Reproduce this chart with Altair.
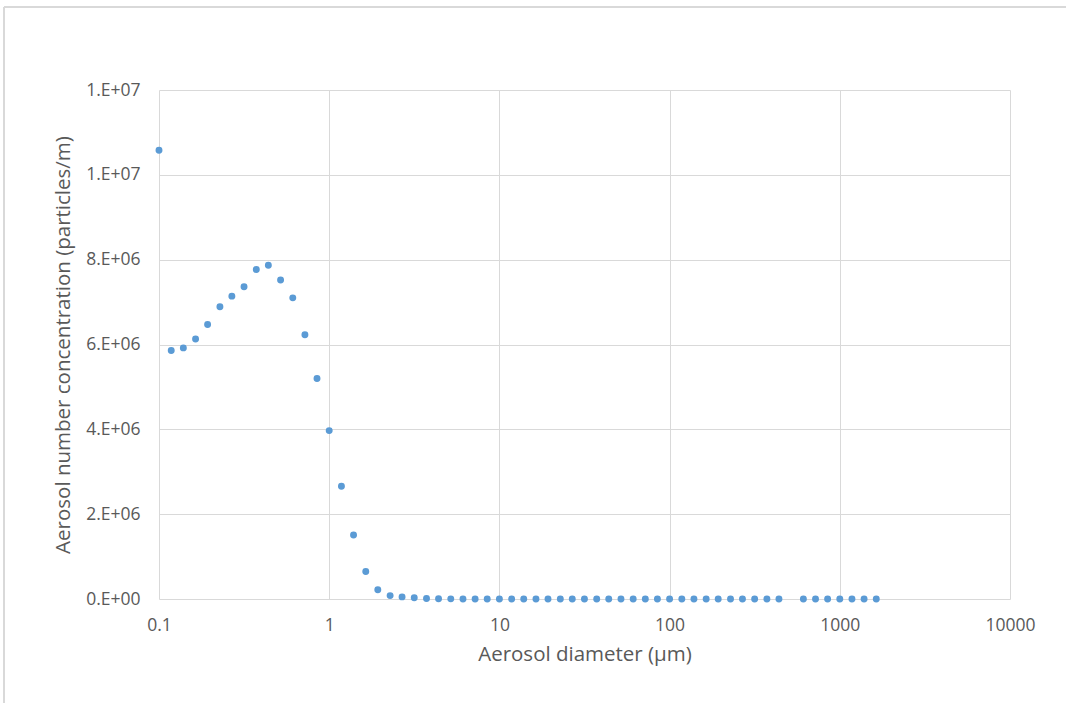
import altair as alt
import pandas as pd

# Aerosol diameter bins (µm), ~14 per decade
diameter = [
    0.1, 0.118, 0.139, 0.164, 0.193, 0.228, 0.268, 0.316, 0.373, 0.439,
    0.518, 0.611, 0.720, 0.848, 1.0, 1.18, 1.39, 1.64, 1.93, 2.28,
    2.68, 3.16, 3.73, 4.39, 5.18, 6.11, 7.20, 8.48, 10.0, 11.8,
    13.9, 16.4, 19.3, 22.8, 26.8, 31.6, 37.3, 43.9, 51.8, 61.1,
    72.0, 84.8, 100, 118, 139, 164, 193, 228, 268, 316,
    373, 439, 611, 720, 848, 1000, 1179, 1389, 1638,
]
# Number concentration (particles/m)
concentration = [
    10580000, 5860000, 5920000, 6130000, 6470000, 6890000, 7140000, 7360000, 7770000, 7870000,
    7520000, 7100000, 6230000, 5200000, 3970000, 2660000, 1510000, 650000, 220000, 80000,
    50000, 30000, 12000, 6000, 3000, 2000, 1000, 600, 300, 200,
    100, 60, 30, 20, 10, 5, 3, 2, 1, 1,
    0, 0, 0, 0, 0, 0, 0, 0, 0, 0,
    0, 0, 0, 0, 0, 0, 0, 0, 0,
]

x_ticks = [0.1, 1, 10, 100, 1000, 10000]
y_ticks = [0, 2e6, 4e6, 6e6, 8e6, 1e7, 1.2e7]
y_labels = ["0.E+00", "2.E+06", "4.E+06", "6.E+06", "8.E+06", "1.E+07", "1.E+07"]

df = pd.DataFrame({"d": diameter, "n": concentration})

label_expr = "''"
for v, lab in reversed(list(zip(y_ticks, y_labels))):
    label_expr = f"abs(datum.value - {v}) < 1 ? '{lab}' : ({label_expr})"

FONT = "Open Sans"
TXT = "#595959"
GRID = "#D9D9D9"

points = alt.Chart(df).mark_circle(size=48, color="#5B9BD5", opacity=1).encode(
    x=alt.X(
        "d:Q",
        scale=alt.Scale(type="log", domain=[0.1, 10000], nice=False),
        axis=alt.Axis(
            values=x_ticks, format="~g", title="Aerosol diameter (µm)",
            grid=True, gridColor=GRID, domain=False, ticks=False,
            labelPadding=17, labelFontSize=17.5, labelColor=TXT, labelFont=FONT,
            titleFontSize=20.5, titleColor=TXT, titleFont=FONT, titleFontWeight="normal",
            titlePadding=11, labelFlush=False,
        ),
    ),
    y=alt.Y(
        "n:Q",
        scale=alt.Scale(domain=[0, 1.2e7], nice=False),
        axis=alt.Axis(
            values=y_ticks, labelExpr=label_expr,
            title="Aerosol number concentration (particles/m)",
            grid=True, gridColor=GRID, domain=False, ticks=False,
            labelPadding=19, labelFontSize=17.5, labelColor=TXT, labelFont=FONT,
            titleFontSize=20.5, titleColor=TXT, titleFont=FONT, titleFontWeight="normal",
            titlePadding=12, labelFlush=False,
        ),
    ),
)

frame_left = alt.Chart(df).mark_rule(color=GRID, strokeWidth=1.5).encode(
    x=alt.value(-155), y=alt.value(-83), y2=alt.value(620)
)
frame_top = alt.Chart(df).mark_rule(color=GRID, strokeWidth=1.5).encode(
    x=alt.value(-155), x2=alt.value(910), y=alt.value(-83)
)

chart = (
    alt.layer(frame_left, frame_top, points)
    .properties(
        width=851, height=509,
        autosize=alt.AutoSizeParams(type="none"),
        padding={"left": 159, "top": 90, "right": 56, "bottom": 104},
        background="white",
    )
    .configure_view(stroke=None)
)

chart.save("out.html", embed_options={"renderer": "svg", "actions": False})
